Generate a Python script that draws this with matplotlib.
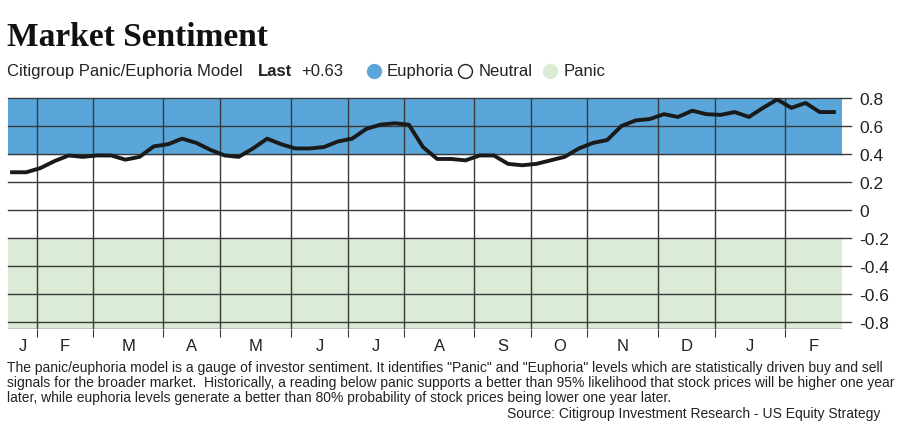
import numpy as np
import matplotlib.pyplot as plt

plt.rcParams['font.family'] = ['Liberation Sans Narrow', 'Liberation Sans', 'DejaVu Sans']

# weekly panic/euphoria readings
sentiment = [0.27, 0.27, 0.30, 0.35, 0.39, 0.38, 0.39, 0.39, 0.36, 0.38, 0.455, 0.47,
             0.51, 0.48, 0.43, 0.39, 0.38, 0.44, 0.51, 0.47, 0.44, 0.44, 0.45, 0.49,
             0.51, 0.58, 0.61, 0.62, 0.61, 0.45, 0.365, 0.365,
             0.355, 0.39, 0.39, 0.33, 0.32, 0.33, 0.355, 0.38, 0.44, 0.48, 0.50, 0.60,
             0.64, 0.65, 0.685, 0.665, 0.71, 0.685, 0.68, 0.70, 0.665, 0.73, 0.79, 0.73,
             0.765, 0.70, 0.70]
month_edges = [-0.28, 1.77, 5.72, 10.66, 14.69, 19.7, 23.73, 27.68, 32.63, 36.65,
               40.61, 45.62, 49.58, 54.52, 58.6]
month_labels = ['J', 'F', 'M', 'A', 'M', 'J', 'J', 'A', 'S', 'O', 'N', 'D', 'J', 'F']
yticks = [0.8, 0.6, 0.4, 0.2, 0, -0.2, -0.4, -0.6, -0.8]
euphoria = (0.4, 0.8)
panic = (-0.85, -0.2)

blue = '#5aa6da'
green = '#dcebd6'
grid = '#3a3a3a'

fig = plt.figure(figsize=(9, 4.27), dpi=100)
ax = fig.add_axes([0.009, 0.227, 0.927, 0.541])
x = np.arange(len(sentiment))
ax.set_xlim(month_edges[0], month_edges[-1])
ax.set_ylim(-0.85, 0.8)

ax.axhspan(*euphoria, color=blue, zorder=0)
ax.axhspan(*panic, color=green, zorder=0)
for y in yticks:
    ax.axhline(y, color=grid, lw=1, zorder=1, clip_on=False, xmax=1.01)
for e in month_edges[1:-1]:
    ax.axvline(e, color=grid, lw=1, zorder=1)
ax.plot(x, sentiment, color='#1a1a1a', lw=2.8, zorder=3, solid_joinstyle='round')

for s in ax.spines.values():
    s.set_visible(False)
ax.set_xticks(month_edges[1:-1])
ax.set_xticklabels([])
ax.tick_params(axis='x', length=6, color=grid, direction='out')
mids = [(a + b) / 2 for a, b in zip(month_edges[:-1], month_edges[1:])]
for m, lab in zip(mids, month_labels):
    ax.text(m, -0.97, lab, ha='center', va='center', fontsize=12, color='#222')
ax.axhline(-0.85, color=grid, lw=1)
ax.yaxis.tick_right()
ax.set_yticks(yticks)
ax.set_yticklabels(['0.8', '0.6', '0.4', '0.2', '0', '-0.2', '-0.4', '-0.6', '-0.8'])
ax.tick_params(axis='y', length=0, pad=12, labelsize=12.5, labelcolor='#222')

fig.text(0.008, 0.912, 'Market Sentiment', fontsize=24, fontweight='bold',
         family='Liberation Serif', va='center', color='#111')
ty = 0.832
fig.text(0.008, ty, 'Citigroup Panic/Euphoria Model', fontsize=12, va='center', color='#222')
fig.text(0.287, ty, 'Last', fontsize=12, fontweight='bold', va='center', color='#222')
fig.text(0.335, ty, '+0.63', fontsize=12, va='center', color='#222')
for xp, fc, lab in [(0.415, blue, 'Euphoria'), (0.517, 'white', 'Neutral'), (0.611, green, 'Panic')]:
    fig.add_artist(plt.Line2D([xp], [ty], marker='o', markersize=10, markerfacecolor=fc,
                              markeredgecolor='#222' if fc == 'white' else fc,
                              transform=fig.transFigure))
    fig.text(xp + 0.015, ty, lab, fontsize=12, va='center', color='#222')

note = ('The panic/euphoria model is a gauge of investor sentiment. It identifies "Panic" and "Euphoria" levels which are statistically driven buy and sell\n'
        'signals for the broader market.  Historically, a reading below panic supports a better than 95% likelihood that stock prices will be higher one year\n'
        'later, while euphoria levels generate a better than 80% probability of stock prices being lower one year later.')
fig.text(0.008, 0.155, note, fontsize=10, va='top', color='#222', linespacing=1.1)
fig.text(0.978, 0.03, 'Source: Citigroup Investment Research - US Equity Strategy',
         fontsize=10, ha='right', va='center', color='#222')

fig.savefig('out.png', dpi=100)
